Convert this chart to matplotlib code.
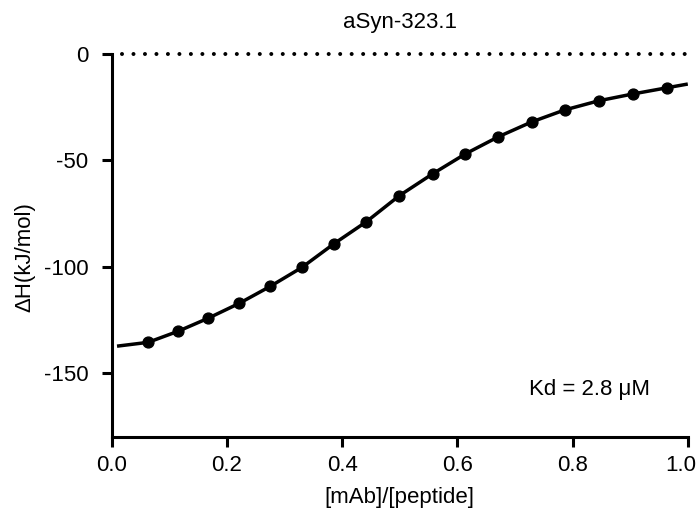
import matplotlib
matplotlib.use("Agg")
import matplotlib.pyplot as plt
import matplotlib.transforms as mtransforms

plt.rcParams['font.family'] = ['Liberation Sans', 'DejaVu Sans']

title = "aSyn-323.1"
x_label = "[mAb]/[peptide]"
y_label = "ΔH(kJ/mol)"
annotation = "Kd = 2.8 μM"

ratio = [0.063, 0.115, 0.167, 0.221, 0.275, 0.330, 0.386, 0.442, 0.499,
         0.557, 0.614, 0.671, 0.729, 0.786, 0.845, 0.904, 0.963]
dH = [-135.5, -130.3, -124.2, -117.2, -109.2, -100.3, -89.1, -78.8, -66.6,
      -56.3, -46.9, -38.9, -31.9, -26.3, -22.0, -18.8, -15.9]

fit_x = [0.009, 0.063, 0.115, 0.167, 0.221, 0.275, 0.330, 0.386, 0.442, 0.499,
         0.557, 0.614, 0.671, 0.729, 0.786, 0.845, 0.904, 0.963, 1.0]
fit_y = [-137.3, -135.5, -130.3, -124.2, -117.2, -109.2, -100.3, -89.1, -78.8, -66.6,
         -56.3, -46.9, -38.9, -31.9, -26.3, -22.0, -18.8, -15.9, -14.1]

baseline_x = [0.0185, 1.0]
baseline_y = [0, 0]

xticks = [0.0, 0.2, 0.4, 0.6, 0.8, 1.0]
xticklabels = ["0.0", "0.2", "0.4", "0.6", "0.8", "1.0"]
yticks = [0, -50, -100, -150]
yticklabels = ["0", "-50", "-100", "-150"]

fig = plt.figure(figsize=(6.99, 5.23), dpi=100)
ax = fig.add_axes([0.160, 0.1644, 0.824, 0.7323])

ax.plot(baseline_x, baseline_y, color='black', linestyle=(0, (0.001, 2.85)),
        linewidth=2.9, dash_capstyle='round', zorder=1, clip_on=False)
ax.plot(fit_x, fit_y, color='black', linewidth=2.5, zorder=2, solid_capstyle='butt')
ax.plot(ratio, dH, 'o', color='black', markersize=7.8, zorder=3)

ax.set_xlim(0, 1.0)
ax.set_ylim(-180, 0)
ax.set_xticks(xticks)
ax.set_xticklabels(xticklabels)
ax.set_yticks(yticks)
ax.set_yticklabels(yticklabels)

for s in ['top', 'right']:
    ax.spines[s].set_visible(False)
for s in ['left', 'bottom']:
    ax.spines[s].set_linewidth(2.2)
    ax.spines[s].set_capstyle('projecting')
ax.tick_params(axis='both', direction='out', length=7, width=2.2, labelsize=16)
ax.tick_params(axis='y', pad=10)
ax.tick_params(axis='x', pad=6)

# keep the last x tick label inside the figure
last = ax.get_xticklabels()[-1]
last.set_transform(last.get_transform() + mtransforms.ScaledTranslation(-5 / 72, 0, fig.dpi_scale_trans))

ax.set_xlabel(x_label, fontsize=16, labelpad=8)
ax.set_ylabel(y_label, fontsize=16)
ax.yaxis.set_label_coords(-0.133, 0.47)
ax.set_title(title, fontsize=16, pad=19)
ax.text(0.83, -157.5, annotation, fontsize=16, ha='center', va='center')

fig.savefig("out.png", dpi=100)
